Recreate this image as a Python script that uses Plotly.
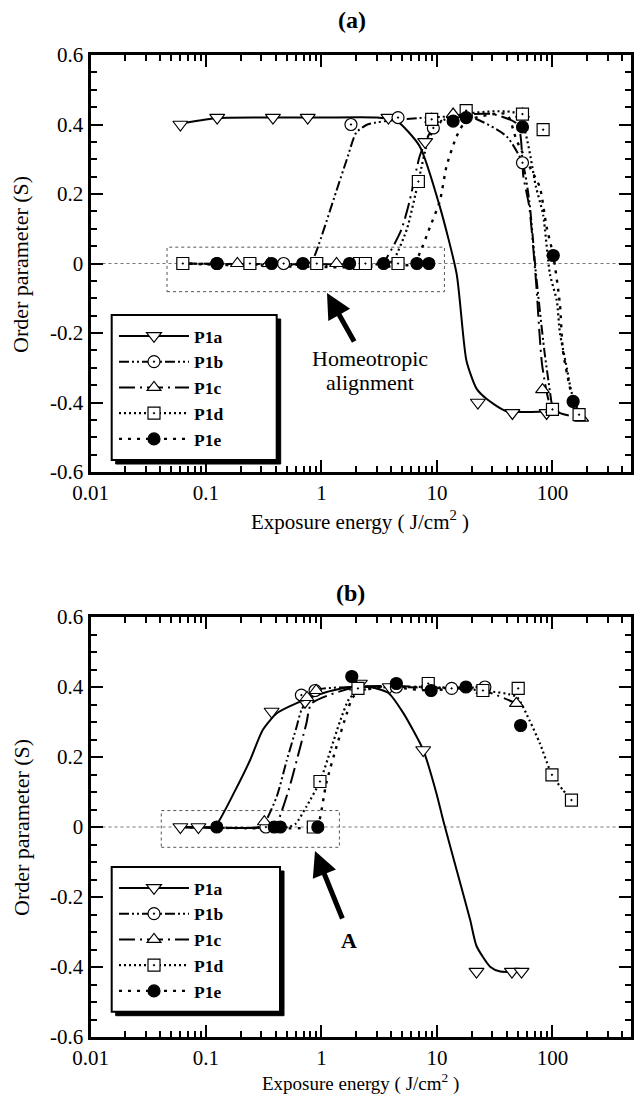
import plotly.graph_objects as go

# ---------------- Panel (a) data ----------------
a_names = ["P1a", "P1b", "P1c", "P1d", "P1e"]
# measured points
a_p1a_x = [0.06, 0.125, 0.38, 0.76, 3.8, 7.9, 22.6, 45, 89]
a_p1a_y = [0.40, 0.42, 0.42, 0.42, 0.42, 0.35, -0.40, -0.43, -0.43]
a_p1b_x = [0.125, 0.47, 1.8, 4.6, 9.3, 55, 100]
a_p1b_y = [0.0, 0.0, 0.40, 0.42, 0.39, 0.29, -0.42]
a_p1c_x = [0.187, 0.35, 1.35, 9.0, 13.8, 55, 82, 100, 179]
a_p1c_y = [0.0, 0.0, 0.0, 0.415, 0.43, 0.43, -0.363, -0.42, -0.445]
a_p1d_x = [0.063, 0.24, 0.91, 2.14, 2.4, 4.6, 6.9, 9.0, 17.9, 55, 83, 100, 170]
a_p1d_y = [0.0, 0.0, 0.0, 0.0, 0.0, 0.0, 0.236, 0.415, 0.44, 0.43, 0.385, -0.42, -0.435]
a_p1e_x = [0.124, 0.37, 0.69, 1.75, 3.45, 6.7, 8.5, 13.8, 17.9, 55, 101.6, 151]
a_p1e_y = [0.0, 0.0, 0.0, 0.0, 0.0, 0.0, 0.0, 0.41, 0.42, 0.393, 0.023, -0.397]
# fitted curves
a_c1a_x = [0.055, 0.12, 0.3, 1, 3, 4.5, 7.1, 10.6, 14.8, 18, 22, 27, 40, 90]
a_c1a_y = [0.40, 0.418, 0.42, 0.42, 0.42, 0.41, 0.337, 0.163, -0.03, -0.28, -0.36, -0.39, -0.425, -0.425]
a_c1b_x = [0.06, 0.7, 0.82, 0.91, 1.35, 1.66, 2.0, 2.5, 5, 20, 40, 55, 63, 72, 85, 100]
a_c1b_y = [0.0, 0.0, 0.005, 0.038, 0.21, 0.30, 0.377, 0.40, 0.415, 0.42, 0.366, 0.29, 0.18, -0.03, -0.25, -0.42]
a_c1c_x = [0.06, 3.0, 3.45, 4.9, 5.8, 7.1, 8.7, 12, 30, 50, 56, 63, 72, 82, 100, 180]
a_c1c_y = [0.0, 0.0, 0.005, 0.096, 0.18, 0.31, 0.376, 0.42, 0.43, 0.40, 0.25, 0.163, -0.05, -0.30, -0.42, -0.445]
a_c1d_x = [0.06, 3.7, 4.2, 5.5, 6.9, 8.5, 11, 17, 50, 72, 83, 95, 109, 116, 133, 146, 170]
a_c1d_y = [0.0, 0.0, 0.01, 0.10, 0.236, 0.36, 0.41, 0.43, 0.43, 0.22, 0.14, -0.03, -0.107, -0.20, -0.30, -0.37, -0.43]
a_c1e_x = [0.06, 6.3, 7.1, 8.7, 10.6, 12.1, 14.8, 17.9, 40, 48.7, 63, 77.6, 89, 101.6, 116, 123, 140, 151]
a_c1e_y = [0.0, 0.0, 0.03, 0.105, 0.18, 0.28, 0.366, 0.41, 0.43, 0.356, 0.28, 0.22, 0.105, 0.023, -0.117, -0.25, -0.35, -0.397]

# ---------------- Panel (b) data ----------------
b_p1a_x = [0.06, 0.086, 0.37, 0.72, 2.15, 3.9, 7.6, 22, 44.6, 54]
b_p1a_y = [0.0, 0.0, 0.33, 0.358, 0.41, 0.40, 0.22, -0.413, -0.413, -0.413]
b_p1b_x = [0.33, 0.67, 0.88, 4.45, 13.4, 26]
b_p1b_y = [0.0, 0.377, 0.39, 0.40, 0.396, 0.40]
b_p1c_x = [0.32, 0.75, 0.9, 2.0, 8.4, 25, 48.7]
b_p1c_y = [0.015, 0.37, 0.39, 0.40, 0.41, 0.39, 0.353]
b_p1d_x = [0.85, 0.97, 2.07, 8.4, 25, 50.5, 99, 146]
b_p1d_y = [0.0, 0.13, 0.396, 0.41, 0.39, 0.396, 0.149, 0.077]
b_p1e_x = [0.124, 0.39, 0.44, 0.93, 1.83, 4.45, 8.9, 17.8, 53]
b_p1e_y = [0.0, 0.0, 0.0, 0.0, 0.43, 0.41, 0.39, 0.40, 0.29]
b_c1a_x = [0.06, 0.11, 0.125, 0.18, 0.24, 0.31, 0.41, 0.61, 1.04, 1.77, 2.6, 3.8, 5.1, 7.6, 9.9, 11.3, 14.8, 19.4, 22, 29, 35.4, 54]
b_c1a_y = [0.0, 0.0, 0.01, 0.106, 0.19, 0.277, 0.325, 0.354, 0.383, 0.40, 0.40, 0.383, 0.326, 0.22, 0.096, 0.02, -0.123, -0.266, -0.34, -0.40, -0.413, -0.413]
b_c1b_x = [0.06, 0.29, 0.32, 0.41, 0.50, 0.61, 0.67, 0.88, 2, 5, 13.4, 26]
b_c1b_y = [0.0, 0.0, 0.01, 0.087, 0.19, 0.287, 0.334, 0.39, 0.40, 0.40, 0.396, 0.40]
b_c1c_x = [0.06, 0.37, 0.41, 0.52, 0.61, 0.74, 0.82, 2, 8, 25, 48.7]
b_c1c_y = [0.0, 0.0, 0.01, 0.106, 0.19, 0.296, 0.353, 0.40, 0.40, 0.39, 0.353]
b_c1d_x = [0.06, 0.52, 0.6, 0.74, 0.97, 1.2, 1.44, 1.77, 2.5, 8.4, 25, 48.7, 63, 77.6, 99, 123, 146]
b_c1d_y = [0.0, 0.0, 0.01, 0.058, 0.13, 0.22, 0.30, 0.37, 0.395, 0.40, 0.39, 0.372, 0.306, 0.24, 0.149, 0.106, 0.077]
b_c1e_x = [0.06, 0.86, 0.94, 1.1, 1.35, 1.66, 1.88, 3, 8.9, 17.8, 30]
b_c1e_y = [0.0, 0.0, 0.01, 0.125, 0.23, 0.325, 0.372, 0.40, 0.39, 0.40, 0.40]

x_tick_vals = [0.01, 0.1, 1, 10, 100]
x_tick_text = ["0.01", "0.1", "1", "10", "100"]
y_tick_vals = [-0.6, -0.4, -0.2, 0, 0.2, 0.4, 0.6]
y_tick_text = ["-0.6", "-0.4", "-0.2", "0", "0.2", "0.4", "0.6"]

# ---------------- styles ----------------
FONT = "Liberation Serif"
symbols = ["triangle-down", "circle-dot", "triangle-up", "square-dot", "circle"]
fills = ["white", "white", "white", "white", "black"]
sizes = [13, 12, 12, 12, 12]
dashes = ["solid", "10px,3px,2px,3px,2px,3px", "16px,5px,2px,5px", "2px,3px", "3px,6px"]
widths = [2, 2, 2, 2.2, 2.4]

fig = go.Figure()

panels = [
    ("x", "y", "legend",
     [(a_c1a_x, a_c1a_y), (a_c1b_x, a_c1b_y), (a_c1c_x, a_c1c_y), (a_c1d_x, a_c1d_y), (a_c1e_x, a_c1e_y)],
     [(a_p1a_x, a_p1a_y), (a_p1b_x, a_p1b_y), (a_p1c_x, a_p1c_y), (a_p1d_x, a_p1d_y), (a_p1e_x, a_p1e_y)]),
    ("x2", "y2", "legend2",
     [(b_c1a_x, b_c1a_y), (b_c1b_x, b_c1b_y), (b_c1c_x, b_c1c_y), (b_c1d_x, b_c1d_y), (b_c1e_x, b_c1e_y)],
     [(b_p1a_x, b_p1a_y), (b_p1b_x, b_p1b_y), (b_p1c_x, b_p1c_y), (b_p1d_x, b_p1d_y), (b_p1e_x, b_p1e_y)]),
]

for xa, ya, lg, curves, points in panels:
    for i, (cx, cy) in enumerate(curves):
        fig.add_trace(go.Scatter(x=cx, y=cy, xaxis=xa, yaxis=ya, mode="lines",
                                 line=dict(color="black", width=widths[i], dash=dashes[i], shape="spline", smoothing=0.6),
                                 showlegend=False, hoverinfo="skip"))
    for i, (px, py) in enumerate(points):
        fig.add_trace(go.Scatter(x=px, y=py, xaxis=xa, yaxis=ya, mode="markers",
                                 marker=dict(symbol=symbols[i], size=sizes[i], color=fills[i],
                                             line=dict(color="black", width=1.2)),
                                 showlegend=False, hoverinfo="skip"))
    for i, nm in enumerate(a_names):
        fig.add_trace(go.Scatter(x=[None], y=[None], xaxis=xa, yaxis=ya, mode="lines+markers",
                                 name="<b>%s</b>" % nm, legend=lg,
                                 line=dict(color="black", width=widths[i], dash=dashes[i]),
                                 marker=dict(symbol=symbols[i], size=sizes[i], color=fills[i],
                                             line=dict(color="black", width=1.2))))

W, H = 634, 1095
def px_x(p): return p / W
def px_y(p): return 1 - p / H

def xaxis_style(anchor):
    return dict(type="log", range=[-2, 2.68], domain=[px_x(90.5), px_x(631)], anchor=anchor,
                tickmode="array", tickvals=x_tick_vals, ticktext=x_tick_text,
                ticks="inside", ticklen=12, tickwidth=2, tickcolor="black",
                showline=True, linewidth=3, linecolor="black", mirror="allticks",
                showgrid=False, zeroline=False, automargin=False, ticklabelstandoff=0,
                tickfont=dict(family=FONT, size=21, color="black"),
                minor=dict(dtick="D1", ticks="inside", ticklen=6, tickwidth=1.5,
                           tickcolor="black", showgrid=False))

def yaxis_style(anchor, dom):
    return dict(range=[-0.6, 0.6], domain=dom, anchor=anchor,
                tickmode="array", tickvals=y_tick_vals, ticktext=y_tick_text,
                ticks="inside", ticklen=12, tickwidth=2, tickcolor="black",
                showline=True, linewidth=3, linecolor="black", mirror="allticks",
                showgrid=False, zeroline=False, automargin=False,
                tickfont=dict(family=FONT, size=21, color="black"),
                minor=dict(dtick=0.05, tick0=0, ticks="inside", ticklen=6, tickwidth=1.5,
                           tickcolor="black", showgrid=False))

top_dom = [px_y(472), px_y(55)]
bot_dom = [px_y(1037), px_y(617)]

legend_common = dict(bgcolor="rgba(0,0,0,0)", borderwidth=0, font=dict(family=FONT, size=17.5, color="black"),
                     xanchor="left", yanchor="top", itemwidth=70, tracegroupgap=0, itemclick=False)

fig.update_layout(
    width=W, height=H, margin=dict(l=0, r=0, t=0, b=0),
    plot_bgcolor="white", paper_bgcolor="white",
    font=dict(family=FONT, size=21, color="black"),
    xaxis=xaxis_style("y"), yaxis=yaxis_style("x", top_dom),
    xaxis2=xaxis_style("y2"), yaxis2=yaxis_style("x2", bot_dom),
    legend=dict(x=px_x(114), y=px_y(318), **legend_common),
    legend2=dict(x=px_x(114), y=px_y(870), **legend_common),
)

shapes = []
# zero reference lines
for xr, yr in [("x", "y"), ("x2", "y2")]:
    shapes.append(dict(type="line", xref=xr + " domain", x0=0, x1=1, yref=yr, y0=0, y1=0,
                       line=dict(color="#777", width=1, dash="dot"), layer="below"))
# dotted boxes around baseline region
box_a = [0.046, 11.6, -0.081, 0.047]
box_b = [0.041, 1.43, -0.058, 0.047]
for (xr, yr), b in [(("x", "y"), box_a), (("x2", "y2"), box_b)]:
    shapes.append(dict(type="rect", xref=xr, yref=yr, x0=b[0], x1=b[1], y0=b[2], y1=b[3],
                       line=dict(color="#555", width=1, dash="dot"), layer="below"))
# legend boxes with drop shadow
for (l, t, r, btm) in [(111.7, 315, 276.7, 460), (111.7, 867, 280, 1011.7)]:
    shapes.append(dict(type="rect", xref="paper", yref="paper", x0=px_x(l + 4), x1=px_x(r + 4),
                       y0=px_y(btm + 4), y1=px_y(t + 4), fillcolor="black", line=dict(color="black", width=1),
                       layer="above"))
    shapes.append(dict(type="rect", xref="paper", yref="paper", x0=px_x(l), x1=px_x(r),
                       y0=px_y(btm), y1=px_y(t), fillcolor="white", line=dict(color="black", width=2),
                       layer="above"))
fig.update_layout(shapes=shapes)

def text_ann(text, x, y, size, angle=0):
    return dict(text=text, x=px_x(x), y=px_y(y), xref="paper", yref="paper", showarrow=False,
                xanchor="center", yanchor="middle", textangle=angle, font=dict(family=FONT, size=size))

ann = []
ann.append(text_ann("<b>(a)</b>", 352, 20, 24))
ann.append(text_ann("<b>(b)</b>", 350, 593, 24))
ann.append(text_ann("Exposure energy ( J/cm<sup>2</sup> )", 360, 520, 21))
ann.append(text_ann("Exposure energy ( J/cm<sup>2</sup> )", 360, 1082, 19))
for yy in [265, 828]:
    ann.append(text_ann("Order parameter (S)", 21, yy, 22, -90))
ann.append(text_ann("Homeotropic", 370, 358, 22))
ann.append(text_ann("alignment", 370, 382, 22))
ann.append(text_ann("<b>A</b>", 349, 940, 22))
# arrows
ann.append(dict(text="", x=px_x(327), y=px_y(293), xref="paper", yref="paper", showarrow=True,
                ax=28, ay=50, arrowhead=2, arrowsize=1, arrowwidth=5, arrowcolor="black"))
ann.append(dict(text="", x=px_x(315), y=px_y(851), xref="paper", yref="paper", showarrow=True,
                ax=28, ay=69, arrowhead=2, arrowsize=1, arrowwidth=5, arrowcolor="black"))
fig.update_layout(annotations=ann)

fig.write_html("out.html", config={"displayModeBar": False},
               post_script="document.body.style.margin='0';")
